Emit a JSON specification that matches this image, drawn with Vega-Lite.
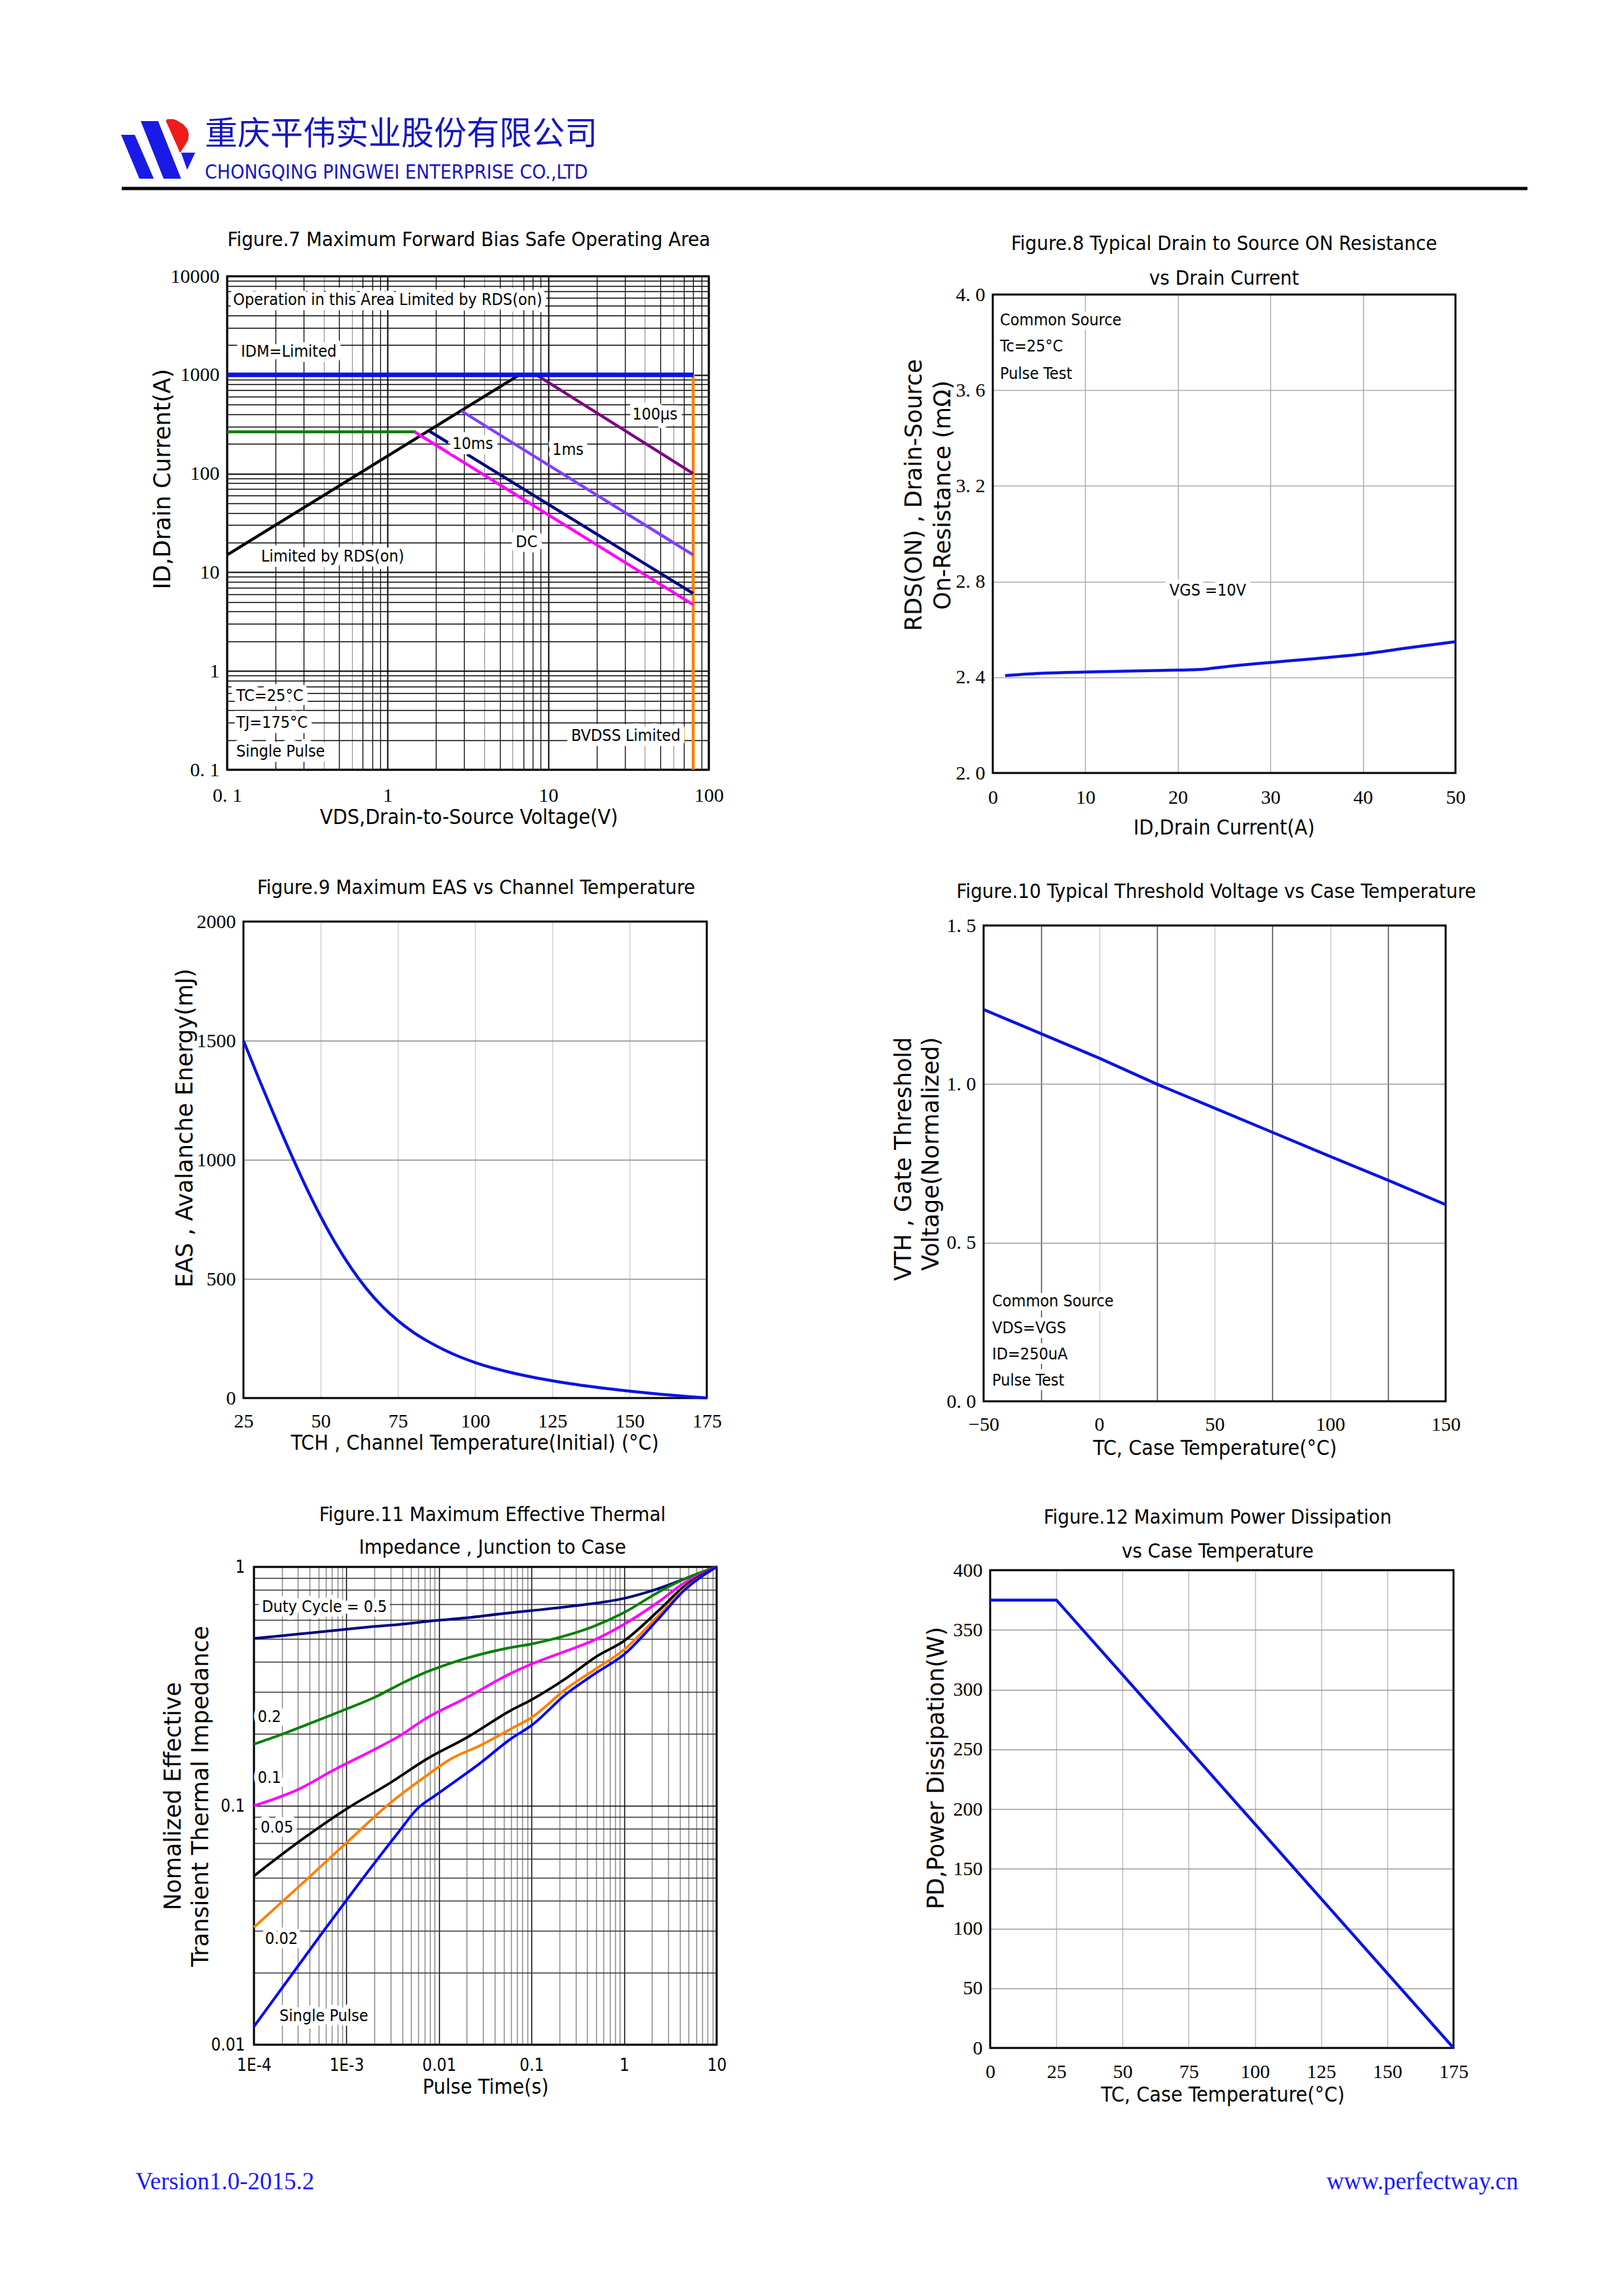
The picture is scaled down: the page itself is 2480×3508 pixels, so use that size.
{
"$schema": "https://vega.github.io/schema/vega-lite/v6.json",
"width": 2480,
"height": 3508,
"autosize": {"type": "none"},
"padding": 0,
"background": "white",
"config": {
  "view": {"stroke": null},
  "axis": {"domain": false, "ticks": false, "tickSize": 0, "labelFlush": false, "labelOverlap": false, "labelBound": false, "labelFont": "Liberation Serif, DejaVu Serif, serif", "labelFontSize": 30, "labelColor": "#000000", "labelPadding": 12, "titleFont": "DejaVu Sans, sans-serif", "titleFontSize": 35, "titleFontWeight": "normal", "titleColor": "#000000", "titleBaseline": "middle", "titleAlign": "center", "titlePadding": 0, "gridColor": "#aaaaaa", "gridWidth": 1.5},
  "axisBottom": {"titleFont": "DejaVu Sans Condensed, DejaVu Sans, sans-serif", "titleFontSize": 32, "labelBaseline": "middle", "labelAlign": "center"},
  "axisTop": {"titleFont": "DejaVu Sans Condensed, DejaVu Sans, sans-serif", "titleFontSize": 31},
  "axisLeft": {"titleAngle": -90, "labelAlign": "right", "labelBaseline": "middle"},
  "text": {"font": "DejaVu Sans Condensed, DejaVu Sans, sans-serif", "fontSize": 25, "color": "#000000"},
  "line": {"strokeWidth": 4.5, "color": "#0a14e0"}
},
"resolve": {"scale": {"x": "independent", "y": "independent", "color": "independent"}, "axis": {"x": "independent", "y": "independent"}},
"datasets": {
  "soa": [
    {"s":"BV","k":"BV","v":80,"i":0.1},{"s":"BV","k":"BV","v":80,"i":1000},
    {"s":"RDS","k":"RDS","v":0.1,"i":15},{"s":"RDS","k":"RDS","v":6.6,"i":1000},
    {"s":"G","k":"G","v":0.1,"i":265},{"s":"G","k":"G","v":1.5,"i":265},
    {"s":"DC","k":"DC","v":1.47,"i":265},{"s":"DC","k":"DC","v":80,"i":4.7},
    {"s":"10ms","k":"10ms-a","v":1.82,"i":269},{"s":"10ms","k":"10ms-a","v":2.38,"i":206},
    {"s":"10ms","k":"10ms-b","v":3.12,"i":157},{"s":"10ms","k":"10ms-b","v":80,"i":6.1},
    {"s":"1ms","k":"1ms","v":2.88,"i":431},{"s":"1ms","k":"1ms","v":80,"i":15},
    {"s":"100us","k":"100us","v":8.46,"i":1000},{"s":"100us","k":"100us","v":80,"i":100},
    {"s":"IDM","k":"IDM","v":0.1,"i":1000},{"s":"IDM","k":"IDM","v":80,"i":1000}
  ],
  "soaLab": [
    {"v":0.109,"i":5770,"t":"Operation in this Area Limited by RDS(on)"},
    {"v":0.122,"i":1727,"t":"IDM=Limited"},
    {"v":33.4,"i":399,"t":"100µs"},
    {"v":2.53,"i":200,"t":"10ms"},
    {"v":10.6,"i":175,"t":"1ms"},
    {"v":6.28,"i":20.3,"t":"DC"},
    {"v":0.163,"i":14.5,"t":"Limited by RDS(on)"},
    {"v":0.114,"i":0.561,"t":"TC=25°C"},
    {"v":0.114,"i":0.3,"t":"TJ=175°C"},
    {"v":0.114,"i":0.153,"t":"Single Pulse"},
    {"v":13.9,"i":0.221,"t":"BVDSS Limited"}
  ],
  "rds": [
    {"i":1.33,"r":2.407},{"i":5.5,"r":2.417},{"i":10,"r":2.422},{"i":15.8,"r":2.427},{"i":20,"r":2.43},{"i":22.1,"r":2.432},
    {"i":26.2,"r":2.449},{"i":30,"r":2.462},{"i":34.5,"r":2.477},{"i":40,"r":2.497},{"i":44.9,"r":2.523},{"i":50,"r":2.549}
  ],
  "rdsLab": [
    {"i":0.78,"r":3.893,"t":"Common Source"},
    {"i":0.78,"r":3.784,"t":"Tc=25°C"},
    {"i":0.78,"r":3.669,"t":"Pulse Test"},
    {"i":19.1,"r":2.763,"t":"VGS =10V"}
  ],
  "eas": [
    {"tc":25,"e":1500},{"tc":30,"e":1340},{"tc":35,"e":1185},{"tc":40,"e":1035},{"tc":45,"e":893},{"tc":50,"e":762},
    {"tc":55,"e":645},{"tc":60,"e":543},{"tc":65,"e":456},{"tc":70,"e":384},{"tc":75,"e":325},{"tc":80,"e":276},
    {"tc":85,"e":236},{"tc":90,"e":202},{"tc":95,"e":173},{"tc":100,"e":149},{"tc":110,"e":112},{"tc":120,"e":84},
    {"tc":130,"e":62},{"tc":140,"e":44},{"tc":150,"e":29},{"tc":160,"e":16},{"tc":170,"e":5},{"tc":175,"e":0}
  ],
  "vth": [
    {"tc":-50,"v":1.235},{"tc":0,"v":1.082},{"tc":25,"v":1.0},{"tc":50,"v":0.924},{"tc":75,"v":0.848},
    {"tc":100,"v":0.772},{"tc":125,"v":0.697},{"tc":150,"v":0.62}
  ],
  "vthLab": [
    {"tc":-46.3,"v":0.3157,"t":"Common Source"},
    {"tc":-46.3,"v":0.231,"t":"VDS=VGS"},
    {"tc":-46.3,"v":0.1486,"t":"ID=250uA"},
    {"tc":-46.3,"v":0.066,"t":"Pulse Test"}
  ],
  "zth": [
    {"d":"0.5","t":0.0001,"z":0.502},{"d":"0.5","t":0.0002,"z":0.515},{"d":"0.5","t":0.0004,"z":0.529},{"d":"0.5","t":0.001,"z":0.548},
    {"d":"0.5","t":0.002,"z":0.563},{"d":"0.5","t":0.004,"z":0.576},{"d":"0.5","t":0.007,"z":0.59},{"d":"0.5","t":0.02,"z":0.612},
    {"d":"0.5","t":0.05,"z":0.638},{"d":"0.5","t":0.1,"z":0.656},{"d":"0.5","t":0.3,"z":0.688},{"d":"0.5","t":1,"z":0.738},
    {"d":"0.5","t":2,"z":0.795},{"d":"0.5","t":4,"z":0.875},{"d":"0.5","t":10,"z":1},
    {"d":"0.2","t":0.0001,"z":0.181},{"d":"0.2","t":0.0002,"z":0.199},{"d":"0.2","t":0.0004,"z":0.221},{"d":"0.2","t":0.0009,"z":0.25},
    {"d":"0.2","t":0.002,"z":0.284},{"d":"0.2","t":0.004,"z":0.326},{"d":"0.2","t":0.0067,"z":0.358},{"d":"0.2","t":0.01,"z":0.38},
    {"d":"0.2","t":0.02,"z":0.415},{"d":"0.2","t":0.057,"z":0.458},{"d":"0.2","t":0.1,"z":0.476},{"d":"0.2","t":0.22,"z":0.512},
    {"d":"0.2","t":0.47,"z":0.564},{"d":"0.2","t":1,"z":0.644},{"d":"0.2","t":2.3,"z":0.78},{"d":"0.2","t":4.5,"z":0.89},{"d":"0.2","t":10,"z":1},
    {"d":"0.1","t":0.0001,"z":0.1},{"d":"0.1","t":0.0003,"z":0.117},{"d":"0.1","t":0.00075,"z":0.142},{"d":"0.1","t":0.002,"z":0.172},
    {"d":"0.1","t":0.004,"z":0.199},{"d":"0.1","t":0.0067,"z":0.228},{"d":"0.1","t":0.02,"z":0.284},{"d":"0.1","t":0.057,"z":0.355},
    {"d":"0.1","t":0.1,"z":0.392},{"d":"0.1","t":0.22,"z":0.44},{"d":"0.1","t":0.47,"z":0.493},{"d":"0.1","t":1,"z":0.575},
    {"d":"0.1","t":2.3,"z":0.709},{"d":"0.1","t":4.5,"z":0.858},{"d":"0.1","t":10,"z":1},
    {"d":"0.05","t":0.0001,"z":0.0508},{"d":"0.05","t":0.00032,"z":0.0716},{"d":"0.05","t":0.001,"z":0.097},{"d":"0.05","t":0.003,"z":0.125},
    {"d":"0.05","t":0.0074,"z":0.157},{"d":"0.05","t":0.02,"z":0.193},{"d":"0.05","t":0.059,"z":0.25},{"d":"0.05","t":0.1,"z":0.278},
    {"d":"0.05","t":0.24,"z":0.343},{"d":"0.05","t":0.51,"z":0.423},{"d":"0.05","t":1,"z":0.49},{"d":"0.05","t":2.3,"z":0.65},
    {"d":"0.05","t":4.5,"z":0.83},{"d":"0.05","t":10,"z":1},
    {"d":"0.02","t":0.0001,"z":0.031},{"d":"0.02","t":0.00039,"z":0.05},{"d":"0.02","t":0.001,"z":0.07},{"d":"0.02","t":0.003,"z":0.103},
    {"d":"0.02","t":0.0074,"z":0.134},{"d":"0.02","t":0.0134,"z":0.157},{"d":"0.02","t":0.028,"z":0.179},{"d":"0.02","t":0.06,"z":0.21},
    {"d":"0.02","t":0.1,"z":0.234},{"d":"0.02","t":0.24,"z":0.31},{"d":"0.02","t":0.5,"z":0.375},{"d":"0.02","t":1,"z":0.45},
    {"d":"0.02","t":2.3,"z":0.62},{"d":"0.02","t":4.5,"z":0.81},{"d":"0.02","t":10,"z":1},
    {"d":"single","t":0.0001,"z":0.0119},{"d":"single","t":0.0002,"z":0.0172},{"d":"single","t":0.0005,"z":0.028},{"d":"single","t":0.0019,"z":0.056},
    {"d":"single","t":0.0036,"z":0.077},{"d":"single","t":0.0058,"z":0.097},{"d":"single","t":0.0093,"z":0.111},{"d":"single","t":0.028,"z":0.151},
    {"d":"single","t":0.059,"z":0.19},{"d":"single","t":0.1,"z":0.217},{"d":"single","t":0.24,"z":0.295},{"d":"single","t":0.5,"z":0.36},
    {"d":"single","t":1,"z":0.43},{"d":"single","t":2.3,"z":0.6},{"d":"single","t":4.5,"z":0.8},{"d":"single","t":10,"z":1}
  ],
  "zthLab": [
    {"t":0.000122,"z":0.68,"txt":"Duty Cycle = 0.5"},
    {"t":0.00011,"z":0.236,"txt":"0.2"},
    {"t":0.00011,"z":0.131,"txt":"0.1"},
    {"t":0.000118,"z":0.0811,"txt":"0.05"},
    {"t":0.000132,"z":0.0278,"txt":"0.02"},
    {"t":0.000189,"z":0.0132,"txt":"Single Pulse"}
  ],
  "pd": [
    {"tc":0,"p":375},{"tc":25,"p":375},{"tc":175,"p":0}
  ]
},
"layer": [
  {
    "layer": [
      {
        "data": {"values": [
          {"part":"a","x":185,"y":206,"y2":206},{"part":"a","x":206,"y":206,"y2":256.25},{"part":"a","x":213,"y":222.2,"y2":273},{"part":"a","x":235,"y":273,"y2":273},
          {"part":"b","x":215,"y":185,"y2":185},{"part":"b","x":241.7,"y":185,"y2":252.1},{"part":"b","x":250,"y":205.9,"y2":273},{"part":"b","x":276.7,"y":273,"y2":273},
          {"part":"d","x":276.7,"y":233.3,"y2":233.3},{"part":"d","x":286,"y":233.3,"y2":259.3},{"part":"d","x":298.3,"y":233.3,"y2":233.3}
        ]},
        "mark": {"type": "area", "color": "#1a1ae6"},
        "encoding": {
          "x": {"field": "x", "type": "quantitative", "scale": {"domain": [0, 2480], "range": [0, 2480], "nice": false, "zero": false}, "axis": null},
          "y": {"field": "y", "type": "quantitative", "stack": null, "scale": {"domain": [0, 3508], "range": [0, 3508], "nice": false, "zero": false}, "axis": null},
          "y2": {"field": "y2"},
          "detail": {"field": "part", "type": "nominal"}
        }
      },
      {
        "data": {"values": [
          {"x":253.5,"y":185,"y2":185},{"x":256,"y":182,"y2":190.6},{"x":263,"y":182,"y2":206.2},{"x":272,"y":185,"y2":226.3},
          {"x":275,"y":186.9,"y2":233},{"x":280,"y":190,"y2":226},{"x":284,"y":194.7,"y2":220},{"x":286,"y":197,"y2":216},
          {"x":287.5,"y":201.8,"y2":213},{"x":288.5,"y":205,"y2":205}
        ]},
        "mark": {"type": "area", "color": "#ee1c1c", "interpolate": "monotone"},
        "encoding": {
          "x": {"field": "x", "type": "quantitative", "axis": null},
          "y": {"field": "y", "type": "quantitative", "stack": null, "axis": null},
          "y2": {"field": "y2"}
        }
      },
      {
        "data": {"values": [{"x": 186, "x2": 2334, "y": 288}]},
        "mark": {"type": "rule", "strokeWidth": 5, "color": "#000000"},
        "encoding": {
          "x": {"field": "x", "type": "quantitative", "axis": null},
          "x2": {"field": "x2"},
          "y": {"field": "y", "type": "quantitative", "axis": null}
        }
      },
      {
        "data": {"values": [{"x": 313, "y": 206, "t": "重庆平伟实业股份有限公司"}]},
        "mark": {"type": "text", "align": "left", "baseline": "middle", "font": "Noto Sans CJK SC", "fontSize": 50, "color": "#1515c8"},
        "encoding": {
          "x": {"field": "x", "type": "quantitative", "axis": null},
          "y": {"field": "y", "type": "quantitative", "axis": null},
          "text": {"field": "t"}
        }
      },
      {
        "data": {"values": [{"x": 313, "y": 264, "t": "CHONGQING PINGWEI ENTERPRISE CO.,LTD"}]},
        "mark": {"type": "text", "align": "left", "baseline": "middle", "fontSize": 30, "color": "#1515c8"},
        "encoding": {
          "x": {"field": "x", "type": "quantitative", "axis": null},
          "y": {"field": "y", "type": "quantitative", "axis": null},
          "text": {"field": "t"}
        }
      },
      {
        "data": {"values": [{"x": 207, "y": 3345, "t": "Version1.0-2015.2"}]},
        "mark": {"type": "text", "align": "left", "baseline": "alphabetic", "font": "Liberation Serif, DejaVu Serif, serif", "fontSize": 37, "color": "#1a1aff"},
        "encoding": {
          "x": {"field": "x", "type": "quantitative", "axis": null},
          "y": {"field": "y", "type": "quantitative", "axis": null},
          "text": {"field": "t"}
        }
      },
      {
        "data": {"values": [{"x": 2320, "y": 3345, "t": "www.perfectway.cn"}]},
        "mark": {"type": "text", "align": "right", "baseline": "alphabetic", "font": "Liberation Serif, DejaVu Serif, serif", "fontSize": 37, "color": "#1a1aff"},
        "encoding": {
          "x": {"field": "x", "type": "quantitative", "axis": null},
          "y": {"field": "y", "type": "quantitative", "axis": null},
          "text": {"field": "t"}
        }
      }
    ]
  },
  {
    "resolve": {"axis": {"x": "independent", "y": "independent"}},
    "layer": [
      {
        "data": {"values": [{}]},
        "mark": {"type": "rect", "filled": false, "stroke": "#000000", "strokeWidth": 3},
        "encoding": {
          "x": {"datum": 0.1, "type": "quantitative", "scale": {"type": "log", "domain": [0.1, 100], "range": [347, 1083], "nice": false},
            "axis": {"orient": "top", "offset": -422, "grid": true, "labels": false, "values": [0.1,0.2,0.3,0.4,0.5,0.6,0.7,0.8,0.9,1,2,3,4,5,6,7,8,9,10,20,30,40,50,60,70,80,90,100],
              "title": "Figure.7 Maximum Forward Bias Safe Operating Area", "titleX": 716, "titleY": -56,
              "gridColor": {"condition": {"test": "(round(datum.value/pow(10, floor(log(datum.value)/LN10 + 1e-9))) == 4) || (round(datum.value/pow(10, floor(log(datum.value)/LN10 + 1e-9))) == 6)", "value": "#999999"}, "value": "#000000"},
              "gridWidth": {"condition": {"test": "abs(log(datum.value)/LN10 - round(log(datum.value)/LN10)) < 0.001", "value": 2}, "value": 1.3}}},
          "x2": {"datum": 100},
          "y": {"datum": 0.1, "type": "quantitative", "scale": {"type": "log", "domain": [0.1, 10000], "range": [1176, 422], "nice": false},
            "axis": {"orient": "left", "offset": -347, "grid": true, "labels": true, "values": [0.1,0.2,0.3,0.4,0.5,0.6,0.7,0.8,0.9,1,2,3,4,5,6,7,8,9,10,20,30,40,50,60,70,80,90,100,200,300,400,500,600,700,800,900,1000,2000,3000,4000,5000,6000,7000,8000,9000,10000],
              "labelExpr": "abs(log(datum.value)/LN10 - round(log(datum.value)/LN10)) < 0.001 ? (datum.value < 0.5 ? '0. 1' : format(datum.value, 'd')) : ''",
              "title": "ID,Drain Current(A)", "titleX": -98.5, "titleY": 731.5, "gridColor": "#000000",
              "gridWidth": {"condition": {"test": "abs(log(datum.value)/LN10 - round(log(datum.value)/LN10)) < 0.001", "value": 2}, "value": 1.3}}},
          "y2": {"datum": 10000}
        }
      },
      {
        "data": {"name": "soa"},
        "transform": [{"filter": "datum.s != 'IDM'"}],
        "mark": {"type": "line", "strokeWidth": 4.5},
        "encoding": {
          "x": {"field": "v", "type": "quantitative",
            "axis": {"orient": "bottom", "offset": -2332, "grid": false, "values": [0.1, 1, 10, 100], "labelExpr": "datum.value < 0.5 ? '0. 1' : format(datum.value, 'd')",
              "labelPadding": 39, "title": "VDS,Drain-to-Source Voltage(V)", "titleX": 716, "titleY": 72}},
          "y": {"field": "i", "type": "quantitative", "axis": null},
          "detail": {"field": "k", "type": "nominal"},
          "color": {"field": "s", "type": "nominal", "scale": {"domain": ["BV","RDS","G","DC","10ms","1ms","100us"], "range": ["#ff8000","#000000","#008000","#ff00ff","#000080","#8040ff","#800080"]}, "legend": null}
        }
      },
      {
        "data": {"name": "soa"},
        "transform": [{"filter": "datum.s == 'IDM'"}],
        "mark": {"type": "line", "strokeWidth": 7, "color": "#0a14e0"},
        "encoding": {
          "x": {"field": "v", "type": "quantitative", "axis": null},
          "y": {"field": "i", "type": "quantitative", "axis": null}
        }
      },
      {
        "data": {"name": "soaLab"},
        "mark": {"type": "text", "align": "left", "baseline": "middle", "fill": "#ffffff", "stroke": "#ffffff", "strokeWidth": 16, "strokeJoin": "round"},
        "encoding": {
          "x": {"field": "v", "type": "quantitative", "axis": null},
          "y": {"field": "i", "type": "quantitative", "axis": null},
          "text": {"field": "t"}
        }
      },
      {
        "data": {"name": "soaLab"},
        "mark": {"type": "text", "align": "left", "baseline": "middle"},
        "encoding": {
          "x": {"field": "v", "type": "quantitative", "axis": null},
          "y": {"field": "i", "type": "quantitative", "axis": null},
          "text": {"field": "t"}
        }
      }
    ]
  },
  {
    "resolve": {"axis": {"x": "independent", "y": "independent"}},
    "layer": [
      {
        "data": {"values": [{}]},
        "mark": {"type": "rect", "filled": false, "stroke": "#000000", "strokeWidth": 3},
        "encoding": {
          "x": {"datum": 0, "type": "quantitative", "scale": {"domain": [0, 50], "range": [1517, 2224], "nice": false, "zero": false},
            "axis": {"orient": "top", "offset": -450, "grid": true, "labels": false, "values": [10,20,30,40], "title": ["Figure.8 Typical Drain to Source ON Resistance", "vs Drain Current"],
              "titleX": 1870, "titleY": -78, "titleLineHeight": 53, "gridColor": "#aaaaaa"}},
          "x2": {"datum": 50},
          "y": {"datum": 2, "type": "quantitative", "scale": {"domain": [2, 4], "range": [1181, 450], "nice": false, "zero": false},
            "axis": {"orient": "left", "offset": -1517, "grid": true, "labels": true, "values": [2,2.4,2.8,3.2,3.6,4], "labelExpr": "replace(format(datum.value, '.1f'), '.', '. ')",
              "title": ["RDS(ON) , Drain-Source", "On-Resistance (mΩ)"], "titleX": -121, "titleY": 756, "titleLineHeight": 44.7, "gridColor": "#aaaaaa"}},
          "y2": {"datum": 4}
        }
      },
      {
        "data": {"name": "rds"},
        "mark": {"type": "line", "interpolate": "monotone", "strokeWidth": 4.5},
        "encoding": {
          "x": {"field": "i", "type": "quantitative",
            "axis": {"orient": "bottom", "offset": -2327, "grid": false, "values": [0,10,20,30,40,50], "format": "d", "labelPadding": 37,
              "title": "ID,Drain Current(A)", "titleX": 1870, "titleY": 83}},
          "y": {"field": "r", "type": "quantitative", "axis": null}
        }
      },
      {
        "data": {"name": "rdsLab"},
        "mark": {"type": "text", "align": "left", "baseline": "middle", "fill": "#ffffff", "stroke": "#ffffff", "strokeWidth": 14, "strokeJoin": "round"},
        "encoding": {
          "x": {"field": "i", "type": "quantitative", "axis": null},
          "y": {"field": "r", "type": "quantitative", "axis": null},
          "text": {"field": "t"}
        }
      },
      {
        "data": {"name": "rdsLab"},
        "mark": {"type": "text", "align": "left", "baseline": "middle"},
        "encoding": {
          "x": {"field": "i", "type": "quantitative", "axis": null},
          "y": {"field": "r", "type": "quantitative", "axis": null},
          "text": {"field": "t"}
        }
      }
    ]
  },
  {
    "resolve": {"axis": {"x": "independent", "y": "independent"}},
    "layer": [
      {
        "data": {"values": [{}]},
        "mark": {"type": "rect", "filled": false, "stroke": "#000000", "strokeWidth": 3},
        "encoding": {
          "x": {"datum": 25, "type": "quantitative", "scale": {"domain": [25, 175], "range": [372, 1080], "nice": false, "zero": false},
            "axis": {"orient": "top", "offset": -1408, "grid": true, "labels": false, "values": [50,75,100,125,150], "title": "Figure.9 Maximum EAS vs Channel Temperature",
              "titleX": 727, "titleY": -52, "gridColor": "#d0d0d0"}},
          "x2": {"datum": 175},
          "y": {"datum": 0, "type": "quantitative", "scale": {"domain": [0, 2000], "range": [2136, 1408], "nice": false, "zero": false},
            "axis": {"orient": "left", "offset": -372, "grid": true, "labels": true, "values": [0,500,1000,1500,2000], "format": "d",
              "title": "EAS , Avalanche Energy(mJ)", "titleX": -90, "titleY": 1723, "gridColor": "#888888"}},
          "y2": {"datum": 2000}
        }
      },
      {
        "data": {"name": "eas"},
        "mark": {"type": "line", "interpolate": "monotone", "strokeWidth": 4.5},
        "encoding": {
          "x": {"field": "tc", "type": "quantitative",
            "axis": {"orient": "bottom", "offset": -1372, "grid": false, "values": [25,50,75,100,125,150,175], "format": "d", "labelPadding": 35,
              "title": "TCH , Channel Temperature(Initial) (°C)", "titleX": 725, "titleY": 68}},
          "y": {"field": "e", "type": "quantitative", "axis": null}
        }
      }
    ]
  },
  {
    "resolve": {"axis": {"x": "independent", "y": "independent"}},
    "layer": [
      {
        "data": {"values": [{}]},
        "mark": {"type": "rect", "filled": false, "stroke": "#000000", "strokeWidth": 3},
        "encoding": {
          "x": {"datum": -50, "type": "quantitative", "scale": {"domain": [-50, 150], "range": [1503, 2209], "nice": false, "zero": false},
            "axis": {"orient": "top", "offset": -1414, "grid": true, "labels": false, "values": [-25,0,25,50,75,100,125], "title": "Figure.10 Typical Threshold Voltage vs Case Temperature",
              "titleX": 1858, "titleY": -52,
              "gridColor": {"condition": {"test": "datum.value % 50 != 0", "value": "#444444"}, "value": "#cccccc"}}},
          "x2": {"datum": 150},
          "y": {"datum": 0, "type": "quantitative", "scale": {"domain": [0, 1.5], "range": [2141, 1414], "nice": false, "zero": false},
            "axis": {"orient": "left", "offset": -1503, "grid": true, "labels": true, "values": [0,0.5,1,1.5], "labelExpr": "replace(format(datum.value, '.1f'), '.', '. ')",
              "title": ["VTH , Gate Threshold", "Voltage(Normalized)"], "titleX": -122.5, "titleY": 1584, "titleAlign": "right", "titleLineHeight": 42, "gridColor": "#999999"}},
          "y2": {"datum": 1.5}
        }
      },
      {
        "data": {"name": "vth"},
        "mark": {"type": "line", "strokeWidth": 4.5},
        "encoding": {
          "x": {"field": "tc", "type": "quantitative",
            "axis": {"orient": "bottom", "offset": -1367, "grid": false, "values": [-50,0,50,100,150], "format": "d", "labelPadding": 35,
              "title": "TC, Case Temperature(°C)", "titleX": 1856, "titleY": 71}},
          "y": {"field": "v", "type": "quantitative", "axis": null}
        }
      },
      {
        "data": {"name": "vthLab"},
        "mark": {"type": "text", "align": "left", "baseline": "middle", "fill": "#ffffff", "stroke": "#ffffff", "strokeWidth": 14, "strokeJoin": "round"},
        "encoding": {
          "x": {"field": "tc", "type": "quantitative", "axis": null},
          "y": {"field": "v", "type": "quantitative", "axis": null},
          "text": {"field": "t"}
        }
      },
      {
        "data": {"name": "vthLab"},
        "mark": {"type": "text", "align": "left", "baseline": "middle"},
        "encoding": {
          "x": {"field": "tc", "type": "quantitative", "axis": null},
          "y": {"field": "v", "type": "quantitative", "axis": null},
          "text": {"field": "t"}
        }
      }
    ]
  },
  {
    "resolve": {"axis": {"x": "independent", "y": "independent"}},
    "layer": [
      {
        "data": {"values": [{}]},
        "mark": {"type": "rect", "filled": false, "stroke": "#000000", "strokeWidth": 3},
        "encoding": {
          "x": {"datum": 0.0001, "type": "quantitative", "scale": {"type": "log", "domain": [0.0001, 10], "range": [388, 1095], "nice": false},
            "axis": {"orient": "top", "offset": -2394, "grid": true, "labels": false, "values": [0.0001,0.0002,0.0003,0.0004,0.0005,0.0006,0.0007,0.0008,0.0009,0.001,0.002,0.003,0.004,0.005,0.006,0.007,0.008,0.009,0.01,0.02,0.03,0.04,0.05,0.06,0.07,0.08,0.09,0.1,0.2,0.3,0.4,0.5,0.6,0.7,0.8,0.9,1,2,3,4,5,6,7,8,9,10],
              "title": ["Figure.11 Maximum Effective Thermal", "Impedance , Junction to Case"], "titleX": 752, "titleY": -80, "titleLineHeight": 50,
              "gridColor": {"condition": {"test": "abs(log(datum.value)/LN10 - round(log(datum.value)/LN10)) < 0.001", "value": "#000000"}, "value": "#888888"}}},
          "x2": {"datum": 10},
          "y": {"datum": 0.01, "type": "quantitative", "scale": {"type": "log", "domain": [0.01, 1], "range": [3124, 2394], "nice": false},
            "axis": {"orient": "left", "offset": -388, "grid": true, "labels": true, "values": [0.01,0.02,0.03,0.04,0.05,0.06,0.07,0.08,0.09,0.1,0.2,0.3,0.4,0.5,0.6,0.7,0.8,0.9,1],
              "labelExpr": "abs(log(datum.value)/LN10 - round(log(datum.value)/LN10)) < 0.001 ? (datum.value > 0.5 ? '1' : datum.value > 0.05 ? '0.1' : '0.01') : ''",
              "labelFont": "DejaVu Sans Condensed, DejaVu Sans, sans-serif", "labelFontSize": 26, "labelPadding": 14,
              "title": ["Nomalized Effective", "Transient Thermal Impedance"], "titleX": -123.6, "titleY": 2744, "titleLineHeight": 42.5,
              "gridColor": {"condition": {"test": "abs(log(datum.value)/LN10 - round(log(datum.value)/LN10)) < 0.001", "value": "#000000"}, "value": "#333333"}}},
          "y2": {"datum": 1}
        }
      },
      {
        "data": {"name": "zth"},
        "mark": {"type": "line", "interpolate": "monotone", "strokeWidth": 4},
        "encoding": {
          "x": {"field": "t", "type": "quantitative",
            "axis": {"orient": "bottom", "offset": -384, "grid": false, "values": [0.0001,0.001,0.01,0.1,1,10],
              "labelExpr": "datum.value < 0.0005 ? '1E-4' : datum.value < 0.005 ? '1E-3' : datum.value < 0.05 ? '0.01' : datum.value < 0.5 ? '0.1' : datum.value < 5 ? '1' : '10'",
              "labelFont": "DejaVu Sans Condensed, DejaVu Sans, sans-serif", "labelFontSize": 26, "labelPadding": 31,
              "title": "Pulse Time(s)", "titleX": 741.5, "titleY": 64}},
          "y": {"field": "z", "type": "quantitative", "axis": null},
          "color": {"field": "d", "type": "nominal", "scale": {"domain": ["0.5","0.2","0.1","0.05","0.02","single"], "range": ["#000080","#008000","#ff00ff","#000000","#ff8000","#0000ff"]}, "legend": null}
        }
      },
      {
        "data": {"name": "zthLab"},
        "mark": {"type": "text", "align": "left", "baseline": "middle", "fill": "#ffffff", "stroke": "#ffffff", "strokeWidth": 14, "strokeJoin": "round"},
        "encoding": {
          "x": {"field": "t", "type": "quantitative", "axis": null},
          "y": {"field": "z", "type": "quantitative", "axis": null},
          "text": {"field": "txt"}
        }
      },
      {
        "data": {"name": "zthLab"},
        "mark": {"type": "text", "align": "left", "baseline": "middle"},
        "encoding": {
          "x": {"field": "t", "type": "quantitative", "axis": null},
          "y": {"field": "z", "type": "quantitative", "axis": null},
          "text": {"field": "txt"}
        }
      }
    ]
  },
  {
    "resolve": {"axis": {"x": "independent", "y": "independent"}},
    "layer": [
      {
        "data": {"values": [{}]},
        "mark": {"type": "rect", "filled": false, "stroke": "#000000", "strokeWidth": 3},
        "encoding": {
          "x": {"datum": 0, "type": "quantitative", "scale": {"domain": [0, 175], "range": [1513, 2221], "nice": false, "zero": false},
            "axis": {"orient": "top", "offset": -2399, "grid": true, "labels": false, "values": [25,50,75,100,125,150], "title": ["Figure.12 Maximum Power Dissipation", "vs Case Temperature"],
              "titleX": 1860, "titleY": -81, "titleLineHeight": 52, "gridColor": "#bbbbbb"}},
          "x2": {"datum": 175},
          "y": {"datum": 0, "type": "quantitative", "scale": {"domain": [0, 400], "range": [3129, 2399], "nice": false, "zero": false},
            "axis": {"orient": "left", "offset": -1513, "grid": true, "labels": true, "values": [0,50,100,150,200,250,300,350,400], "format": "d",
              "title": "PD,Power Dissipation(W)", "titleX": -83, "titleY": 2701, "gridColor": "#999999"}},
          "y2": {"datum": 400}
        }
      },
      {
        "data": {"name": "pd"},
        "mark": {"type": "line", "strokeWidth": 4.5},
        "encoding": {
          "x": {"field": "tc", "type": "quantitative",
            "axis": {"orient": "bottom", "offset": -379, "grid": false, "values": [0,25,50,75,100,125,150,175], "format": "d", "labelPadding": 36,
              "title": "TC, Case Temperature(°C)", "titleX": 1868, "titleY": 71}},
          "y": {"field": "p", "type": "quantitative", "axis": null}
        }
      }
    ]
  }
]
}
